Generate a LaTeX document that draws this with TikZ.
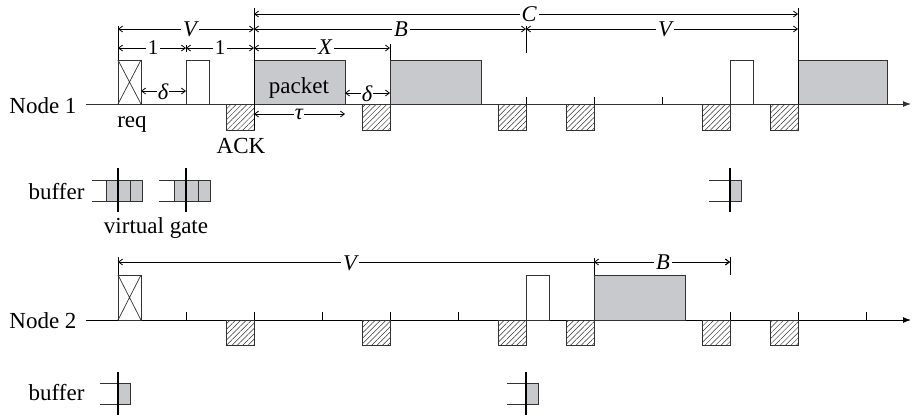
\documentclass[tikz,border=0pt]{standalone}
\usepackage{fontspec}
\setmainfont{Liberation Serif}
\usetikzlibrary{arrows.meta,patterns.meta}
\definecolor{pktgray}{RGB}{200,201,204}
\definecolor{ink}{RGB}{50,50,50}
\begin{document}
\begin{tikzpicture}[x=1pt,y=-1pt,
  font=\fontsize{23}{27}\selectfont,
  blk/.style={draw=ink,line width=1pt},
  pkt/.style={blk,fill=pktgray},
  hatch/.style={draw=ink,line width=1pt,
    pattern={Lines[angle=45,distance=3.8pt,line width=0.5pt]},pattern color=ink},
  axisline/.style={draw=ink,line width=1pt,-{Latex[length=8pt,width=6pt]}},
  ext/.style={draw=black,line width=1pt},
  tick/.style={draw=black,line width=1pt},
  dim/.style={draw=black,line width=0.8pt,
    {Straight Barb[length=4pt,width=6pt]}-{Straight Barb[length=4pt,width=6pt]}},
  dimlbl/.style={fill=white,inner sep=2pt,font=\fontsize{22.5}{24}\selectfont\itshape},
  numlbl/.style={fill=white,inner sep=2pt,font=\fontsize{21}{24}\selectfont},
  gate/.style={draw=black,line width=1.6pt},
  bufline/.style={draw=ink,line width=0.9pt}]
\useasboundingbox (0,0) rectangle (914,416);

% ---------------- Node 1 time line ----------------
\node[anchor=base east] (lab1) at (80,113) {Node 1};
\coordinate (a1s) at (86,104);
\coordinate (a1e) at (911,104);
\draw[axisline] (a1s) -- (a1e);

% ticks on the slot grid
\foreach \x in {526,594,662} \draw[tick] (\x,97) -- (\x,104);

% request (crossed) and short control blocks
\draw[blk,fill=white] (118,60) rectangle (141,104);
\draw[ink,line width=0.7pt] (118,60) -- (141,104) (141,60) -- (118,104);
\draw[blk,fill=white] (186,60) rectangle (209,104);
\draw[blk,fill=white] (730,60) rectangle (753,104);

% packets
\draw[pkt] (254,60) rectangle (345,104);
\node[anchor=base] (pk) at (299,93) {packet};
\draw[pkt] (390,60) rectangle (481,104);
\draw[pkt] (798,60) rectangle (887,104);

% ACK slots
\foreach \x in {254,390,526,594,730,798}
  \draw[hatch] (\x-27.5,104) rectangle (\x,130);

\node[anchor=base] (rq) at (132,127) {req};
\node[anchor=base] (ack) at (241,153) {ACK};

% extension lines
\draw[ext] (118,26) -- (118,60);
\draw[ext] (254,8) -- (254,130);
\draw[ext] (390,44) -- (390,60);
\draw[ext] (526,26) -- (526,53);
\draw[ext] (798,8) -- (798,104);
\draw[ext] (186,45) -- (186,52);

% dimensions
\draw[dim] (254,14) -- (798,14);
\node[dimlbl] (dC) at (529,14) {C};
\draw[dim] (118,29) -- (254,29);
\node[dimlbl] (dV1) at (190,29) {V};
\draw[dim] (254,29) -- (526,29);
\node[dimlbl] (dB1) at (401,29) {B};
\draw[dim] (526,29) -- (798,29);
\node[dimlbl] (dV2) at (665,29) {V};
\draw[dim] (118,48) -- (186,48);
\node[numlbl] (d11) at (153,48) {1};
\draw[dim] (186,48) -- (254,48);
\node[numlbl] (d12) at (220,48) {1};
\draw[dim] (254,48) -- (390,48);
\node[dimlbl] (dX) at (325,47) {X};
\draw[dim] (141,91) -- (186,91);
\node[dimlbl,inner sep=1pt] (dd1) at (163,92) {δ};
\draw[dim] (345,93) -- (390,93);
\node[dimlbl,inner sep=1pt] (dd2) at (367,94) {δ};
\draw[dim] (254,114) -- (345,114);
\node[dimlbl,inner sep=1pt] (dt) at (299,114) {τ};

% ---------------- buffers of node 1 ----------------
\node[anchor=base east] (buf1) at (88,199) {buffer};
\draw[bufline] (92,180) -- (106,180) (92,201) -- (106,201);
\draw[pkt] (106,180) rectangle (142,201);
\draw[blk] (130,180) -- (130,201);
\draw[gate] (118,168) -- (118,212);

\draw[bufline] (159,180) -- (174,180) (159,201) -- (174,201);
\draw[pkt] (174,180) rectangle (210,201);
\draw[blk] (198,180) -- (198,201);
\draw[gate] (186,168) -- (186,212);

\node[anchor=base] (vg) at (156,233) {virtual gate};

\draw[bufline] (709,180) -- (730,180) (709,201) -- (730,201);
\draw[pkt] (730,180) rectangle (741,201);
\draw[gate] (730,168) -- (730,212);

% ---------------- Node 2 time line ----------------
\node[anchor=base east] (lab2) at (80,328) {Node 2};
\coordinate (a2s) at (86,320);
\coordinate (a2e) at (911,320);
\draw[axisline,draw=black] (a2s) -- (a2e);

\foreach \x in {186,254,322,390,458,730,798,866} \draw[tick] (\x,312) -- (\x,320);

\draw[blk,fill=white] (118,275) rectangle (141,320);
\draw[ink,line width=0.7pt] (118,275) -- (141,320) (141,275) -- (118,320);
\draw[blk,fill=white] (526,275) rectangle (549,320);
\draw[pkt] (594,275) rectangle (685,320);

\foreach \x in {254,390,526,594,730,798}
  \draw[hatch] (\x-27.5,320) rectangle (\x,345);

\draw[ext] (118,257) -- (118,275);
\draw[ext] (594,258) -- (594,275);
\draw[ext] (730,257) -- (730,275);

\draw[dim] (118,262) -- (730,262);
\node[dimlbl] (dV3) at (350,263) {V};
\draw[dim] (594,262) -- (730,262);
\node[dimlbl] (dB2) at (663,262) {B};

% ---------------- buffers of node 2 ----------------
\node[anchor=base east] (buf2) at (88,400) {buffer};
\draw[bufline] (100,383) -- (118,383) (100,404) -- (118,404);
\draw[pkt] (118,383) rectangle (130,404);
\draw[gate] (118,372) -- (118,415);

\draw[bufline] (507,383) -- (526,383) (507,404) -- (526,404);
\draw[pkt] (526,383) rectangle (538,404);
\draw[gate] (526,372) -- (526,415);
\end{tikzpicture}
\end{document}
